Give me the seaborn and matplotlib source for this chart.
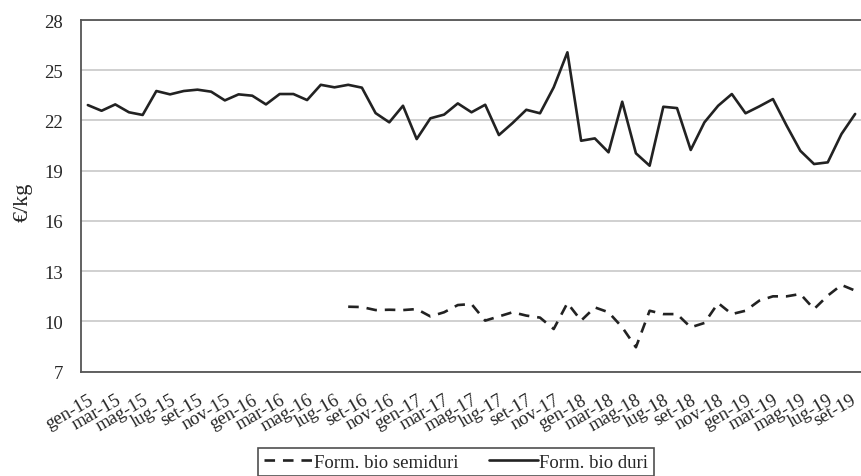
import numpy as np
import pandas as pd
import matplotlib
matplotlib.use("Agg")
import matplotlib.pyplot as plt
import matplotlib.transforms as mtransforms
import seaborn as sns

# ---- data ----
month_abbr = ["gen", "feb", "mar", "apr", "mag", "giu", "lug", "ago", "set", "ott", "nov", "dic"]
months = [f"{m}-{y}" for y in ["15", "16", "17", "18", "19"] for m in month_abbr][:57]

duri = [22.92, 22.58, 22.96, 22.49, 22.33, 23.76, 23.56, 23.76, 23.84, 23.72,
        23.20, 23.56, 23.48, 22.96, 23.58, 23.58, 23.22, 24.13, 23.98, 24.13,
        23.96, 22.44, 21.89, 22.88, 20.89, 22.13, 22.35, 23.02, 22.49, 22.94,
        21.13, 21.85, 22.64, 22.43, 23.98, 26.07, 20.79, 20.93, 20.10, 23.12,
        20.04, 19.30, 22.82, 22.74, 20.24, 21.89, 22.88, 23.58, 22.43, 22.84,
        23.28, 21.69, 20.19, 19.40, 19.50, 21.19, 22.39]

semiduri = [None] * 19 + [
    10.88, 10.86, 10.68, 10.70, 10.68, 10.74, 10.30, 10.55, 10.98, 11.04,
    10.05, 10.30, 10.55, 10.35, 10.23, 9.55, 11.10, 10.05, 10.84, 10.55,
    9.65, 8.46, 10.64, 10.44, 10.44, 9.65, 9.91, 11.10, 10.44, 10.64,
    11.24, 11.50, 11.50, 11.64, 10.74, 11.54, 12.18, 11.84]

series_names = ["Form. bio semiduri", "Form. bio duri"]
y_ticks = [7, 10, 13, 16, 19, 22, 25, 28]

# ---- long table ----
rows = []
for i, m in enumerate(months):
    if semiduri[i] is not None:
        rows.append({"idx": i, "val": semiduri[i], "serie": series_names[0]})
for i, m in enumerate(months):
    rows.append({"idx": i, "val": duri[i], "serie": series_names[1]})
df = pd.DataFrame(rows)

sns.set_style("white")
plt.rcParams["font.family"] = ["Liberation Serif", "DejaVu Serif"]

fig = plt.figure(figsize=(8.61, 4.77), dpi=100)
ax = fig.add_axes([81 / 861, 104.3 / 477, 781 / 861, 351.7 / 477])

line_col = "#222222"
sns.lineplot(data=df, x="idx", y="val", hue="serie", style="serie",
             hue_order=series_names, style_order=series_names,
             palette={series_names[0]: line_col, series_names[1]: line_col},
             dashes={series_names[0]: (4, 3), series_names[1]: ""},
             linewidth=1.9, ax=ax, legend=True)

handles, labels = ax.get_legend_handles_labels()
ax.get_legend().remove()

ax.set_xlim(-0.5, len(months) - 0.5)
ax.set_ylim(7, 28)
ax.set_yticks(y_ticks)
ax.set_yticklabels([str(t) for t in y_ticks], fontsize=13.5)
ax.yaxis.grid(True, color="#c8c8c8", linewidth=1.2)
ax.set_axisbelow(True)

major = list(range(0, len(months), 2))
ax.set_xticks(major)
ax.set_xticklabels([months[i] for i in major], rotation=30, ha="right",
                   va="top", rotation_mode="anchor", fontsize=13.5)
ax.set_xticks(np.arange(-0.5, len(months), 2), minor=True)
ax.tick_params(axis="x", which="major", length=0, pad=14)
ax.tick_params(axis="x", which="minor", length=5, width=1.2, color="#444444", direction="out")
ax.tick_params(axis="y", length=0, pad=13)

# keep the last label inside the figure edge (after tick_params, which resets transforms)
last = ax.get_xticklabels()[-1]
last.set_transform(last.get_transform() +
                   mtransforms.ScaledTranslation(-5 / 100, 0, fig.dpi_scale_trans))

for s in ["left", "bottom", "top", "right"]:
    ax.spines[s].set_color("#555555")
    ax.spines[s].set_linewidth(1.3)

ax.set_xlabel("")
ax.set_ylabel("€/kg", fontsize=16)
ax.yaxis.set_label_coords(-0.0615, 0.484)

leg = fig.legend(handles, labels, loc="upper center", ncol=2,
                 bbox_to_anchor=(456 / 861, 1 - 449 / 477), frameon=True,
                 fancybox=False, edgecolor="#222222", fontsize=13.5,
                 handlelength=2.6, handletextpad=0.1, columnspacing=1.6,
                 borderpad=0.3, borderaxespad=0)
leg.get_frame().set_linewidth(1.2)

fig.savefig("out.png", dpi=100)
